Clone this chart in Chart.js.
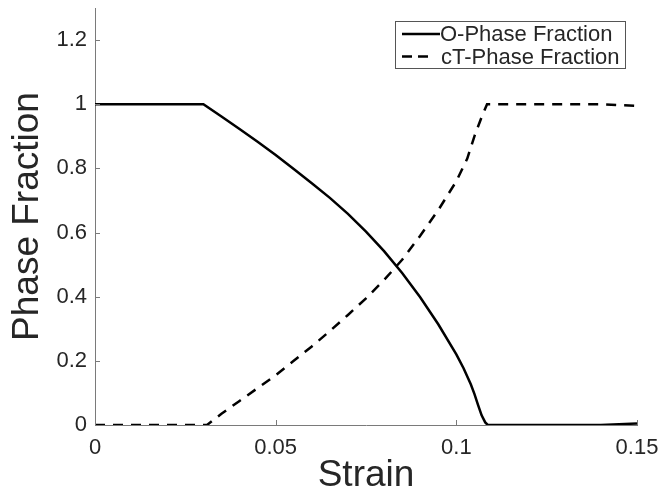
<!DOCTYPE html>
<html>
<head>
<meta charset="utf-8">
<script src="https://cdn.jsdelivr.net/npm/chart.js@4/dist/chart.umd.min.js"></script>
<style>
  html, body { margin: 0; padding: 0; background: #fff; }
  canvas { display: block; }
</style>
</head>
<body>
<canvas id="chart" width="665" height="495"></canvas>
<script>
// values
const oStrain = [0, 0.01, 0.02, 0.03, 0.035, 0.04, 0.045, 0.05, 0.055, 0.06, 0.065, 0.07, 0.075, 0.08, 0.085, 0.09, 0.095, 0.1, 0.102, 0.104, 0.105, 0.106, 0.107, 0.108, 0.1087, 0.12, 0.13, 0.14, 0.145, 0.15]
const oFraction = [1, 1, 1, 1, 0.962, 0.923, 0.883, 0.842, 0.798, 0.754, 0.708, 0.658, 0.603, 0.542, 0.474, 0.398, 0.314, 0.22, 0.177, 0.127, 0.097, 0.063, 0.03, 0.008, 0, 0, 0, 0, 0.002, 0.005]

const ctStrain = [0, 0.01, 0.02, 0.031, 0.035, 0.04, 0.045, 0.05, 0.055, 0.06, 0.065, 0.07, 0.075, 0.08, 0.085, 0.09, 0.095, 0.1, 0.103, 0.105, 0.107, 0.1085, 0.12, 0.13, 0.14, 0.15]
const ctFraction = [0, 0, 0, 0, 0.035, 0.075, 0.115, 0.155, 0.2, 0.245, 0.293, 0.343, 0.395, 0.452, 0.515, 0.59, 0.67, 0.76, 0.83, 0.9, 0.96, 1, 1, 1, 1, 0.995]

const xTicks = [0, 0.05, 0.1, 0.15]
const yTicks = [0, 0.2, 0.4, 0.6, 0.8, 1, 1.2]

const textColor = '#262626'
const axisColor = '#7a7a7a'
const fontFamily = '"Liberation Sans", Arial, Helvetica, sans-serif'

const toPoints = (xs, ys) => xs.map((x, i) => ({ x: x, y: ys[i] }))

// MATLAB-style inward tick marks
const inwardTicks = {
  id: 'inwardTicks',
  afterDraw(chart) {
    const { ctx, chartArea, scales } = chart
    ctx.save()
    ctx.strokeStyle = axisColor
    ctx.lineWidth = 1
    ctx.beginPath()
    scales.x.ticks.forEach(t => {
      const px = Math.round(scales.x.getPixelForValue(t.value)) + 0.5
      ctx.moveTo(px, chartArea.bottom)
      ctx.lineTo(px, chartArea.bottom - 5)
    })
    scales.y.ticks.forEach(t => {
      const py = Math.round(scales.y.getPixelForValue(t.value)) + 0.5
      ctx.moveTo(chartArea.left, py)
      ctx.lineTo(chartArea.left + 5, py)
    })
    ctx.stroke()
    ctx.restore()
  }
}

// boxed legend inside the top right corner of the plot
const boxLegend = {
  id: 'boxLegend',
  afterDraw(chart) {
    const { ctx, chartArea } = chart
    const w = 230, h = 47
    const x0 = chartArea.right - 12 - w
    const y0 = chartArea.top + 13
    ctx.save()
    ctx.fillStyle = '#fff'
    ctx.fillRect(x0, y0, w, h)
    ctx.strokeStyle = '#555'
    ctx.lineWidth = 1
    ctx.strokeRect(Math.round(x0) + 0.5, Math.round(y0) + 0.5, w, h)
    ctx.font = '22px ' + fontFamily
    ctx.textBaseline = 'middle'
    ctx.fillStyle = textColor
    chart.data.datasets.forEach((ds, i) => {
      const cy = y0 + 13 + i * 22.5
      const dashed = ds.borderDash.length > 0
      ctx.strokeStyle = '#000'
      ctx.lineWidth = 2.5
      ctx.setLineDash(dashed ? [10, 6] : [])
      ctx.beginPath()
      ctx.moveTo(x0 + 7, cy)
      ctx.lineTo(x0 + (dashed ? 35 : 45), cy)
      ctx.stroke()
      ctx.setLineDash([])
      ctx.fillText(ds.label, x0 + 45 + i, cy + 1)
    })
    ctx.restore()
  }
}

new Chart(document.getElementById('chart'), {
  type: 'scatter',
  data: {
    datasets: [{
      label: 'O-Phase Fraction',
      data: toPoints(oStrain, oFraction),
      showLine: true,
      borderColor: '#000',
      borderWidth: 2.5,
      borderDash: [],
      pointRadius: 0,
      tension: 0
    }, {
      label: 'cT-Phase Fraction',
      data: toPoints(ctStrain, ctFraction),
      showLine: true,
      borderColor: '#000',
      borderWidth: 2.5,
      borderDash: [10, 8],
      pointRadius: 0,
      tension: 0
    }]
  },
  options: {
    responsive: false,
    animation: false,
    devicePixelRatio: 1,
    layout: {
      padding: { left: 0, top: 8, right: 28, bottom: 0 }
    },
    plugins: {
      legend: { display: false },
      tooltip: { enabled: false }
    },
    scales: {
      x: {
        type: 'linear',
        min: 0,
        max: 0.15,
        afterBuildTicks: scale => { scale.ticks = xTicks.map(v => ({ value: v })) },
        afterFit: scale => { scale.height = 70; scale.paddingLeft = 0; scale.paddingRight = 0 },
        grid: { display: false, drawTicks: false },
        border: { display: true, color: axisColor, width: 1 },
        ticks: {
          padding: 10,
          maxRotation: 0,
          color: textColor,
          font: { family: fontFamily, size: 22 },
          callback: value => String(value)
        },
        title: {
          display: true,
          text: 'Strain',
          color: textColor,
          font: { family: fontFamily, size: 37 },
          padding: { top: 0, bottom: -3 }
        }
      },
      y: {
        type: 'linear',
        min: 0,
        max: 1.3,
        afterBuildTicks: scale => { scale.ticks = yTicks.map(v => ({ value: v })) },
        afterFit: scale => { scale.width = 95; scale.paddingTop = 0; scale.paddingBottom = 0 },
        grid: { display: false, drawTicks: false },
        border: { display: true, color: axisColor, width: 1 },
        ticks: {
          padding: 8,
          color: textColor,
          font: { family: fontFamily, size: 22 },
          callback: value => String(value)
        },
        title: {
          display: true,
          text: 'Phase Fraction',
          color: textColor,
          font: { family: fontFamily, size: 37 },
          padding: { top: 6, bottom: 0 }
        }
      }
    }
  },
  plugins: [inwardTicks, boxLegend]
})
</script>
</body>
</html>
